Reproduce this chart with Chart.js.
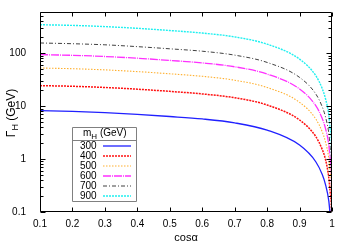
<!DOCTYPE html>
<html>
<head>
<meta charset="utf-8">
<script src="https://cdn.jsdelivr.net/npm/chart.js@4.4.1/dist/chart.umd.min.js"></script>
<style>
html, body { margin: 0; padding: 0; background: #fff; }
</style>
</head>
<body>
<canvas id="widthchart" width="350" height="245"></canvas>
<script>
// cos(alpha) sample points
const cosAlpha = [0.1, 0.2, 0.3, 0.4, 0.5, 0.6, 0.7, 0.8, 0.9, 0.95, 0.97, 0.98, 0.99, 0.995, 0.999, 1.0];

// Gamma_H (GeV) for each heavy Higgs mass
const width300 = [8.2, 7.95, 7.55, 7.0, 6.37, 5.72, 4.83, 3.52, 1.84, 0.89, 0.51, 0.33, 0.164, 0.082, 0.0164, 0.0001];
const width400 = [24.4, 23.7, 22.5, 20.9, 19.0, 17.0, 14.4, 10.5, 5.47, 2.66, 1.51, 0.98, 0.45, 0.22, 0.045, 0.0001];
const width500 = [52.5, 50.9, 48.4, 44.9, 40.8, 36.6, 30.9, 22.5, 11.8, 5.72, 3.26, 2.1, 1.05, 0.525, 0.105, 0.0001];
const width600 = [94, 91.2, 86.6, 80.4, 73.0, 65.5, 55.4, 40.3, 21.1, 10.2, 5.83, 3.77, 1.88, 0.94, 0.188, 0.0001];
const width700 = [156, 151, 144, 133, 121, 109, 91.9, 66.9, 34.9, 17.0, 9.67, 6.26, 3.12, 1.56, 0.312, 0.0001];
const width900 = [345, 335, 318, 295, 268, 240, 203, 148, 77.3, 37.6, 21.4, 13.8, 6.9, 3.45, 0.69, 0.0001];

const massLabels = ['300', '400', '500', '600', '700', '900'];

// axis ticks
const xTicks = [0.1, 0.2, 0.3, 0.4, 0.5, 0.6, 0.7, 0.8, 0.9, 1.0];
const yMajor = [0.1, 1, 10, 100];
const yMinor = [0.2, 0.3, 0.4, 0.5, 0.6, 0.7, 0.8, 0.9,
                2, 3, 4, 5, 6, 7, 8, 9,
                20, 30, 40, 50, 60, 70, 80, 90,
                200, 300, 400, 500];

const FONT = "'Liberation Sans', Arial, sans-serif";

function pts(ys) {
    return cosAlpha.map((c, i) => ({ x: c, y: ys[i] }));
}

function ds(label, ys, color, dash, w) {
    return {
        label: label,
        data: pts(ys),
        borderColor: color,
        backgroundColor: color,
        borderDash: dash,
        borderWidth: w,
        pointRadius: 0,
        cubicInterpolationMode: 'monotone',
        fill: false
    };
}

// frame, inward ticks, axis titles and the boxed legend
const decor = {
    id: 'decor',
    afterDraw(chart) {
        const { ctx, chartArea: a, scales: { x, y } } = chart;
        const L = Math.round(a.left) + 0.5, R = Math.round(a.right) - 0.5;
        const T = Math.round(a.top) + 0.5, B = Math.round(a.bottom) - 0.5;
        ctx.save();
        ctx.strokeStyle = '#000';
        ctx.lineWidth = 1;
        ctx.setLineDash([]);
        ctx.beginPath();
        ctx.rect(L, T, R - L, B - T);
        xTicks.forEach(v => {
            const px = Math.round(x.getPixelForValue(v)) + 0.5;
            ctx.moveTo(px, B); ctx.lineTo(px, B - 4);
            ctx.moveTo(px, T); ctx.lineTo(px, T + 4);
        });
        yMajor.forEach(v => {
            const py = Math.round(y.getPixelForValue(v)) + 0.5;
            ctx.moveTo(L, py); ctx.lineTo(L + 5, py);
            ctx.moveTo(R, py); ctx.lineTo(R - 5, py);
        });
        yMinor.forEach(v => {
            const py = Math.round(y.getPixelForValue(v)) + 0.5;
            ctx.moveTo(L, py); ctx.lineTo(L + 3, py);
            ctx.moveTo(R, py); ctx.lineTo(R - 3, py);
        });
        ctx.stroke();

        // x title
        ctx.fillStyle = '#000';
        ctx.font = '11px ' + FONT;
        ctx.textAlign = 'center';
        ctx.textBaseline = 'alphabetic';
        ctx.fillText('cosα', (a.left + a.right) / 2, 241);

        // y title with subscript
        ctx.save();
        ctx.translate(15, 113);
        ctx.rotate(-Math.PI / 2);
        ctx.textAlign = 'left';
        const g = 'Γ', rest = ' (GeV)';
        ctx.font = '9px ' + FONT;
        const wH = ctx.measureText('H').width;
        ctx.font = '12px ' + FONT;
        const wG = ctx.measureText(g).width, wR = ctx.measureText(rest).width;
        let sx = -(wG + wH + wR) / 2;
        ctx.fillText(g, sx, 0);
        ctx.font = '9px ' + FONT;
        ctx.fillText('H', sx + wG, 3);
        ctx.font = '12px ' + FONT;
        ctx.fillText(rest, sx + wG + wH, 0);
        ctx.restore();

        // legend box
        const bx = 72.5, by = 127.5, bw = 64, bh = 74;
        ctx.strokeStyle = '#808080';
        ctx.fillStyle = '#fff';
        ctx.beginPath();
        ctx.rect(bx, by, bw, bh);
        ctx.fill();
        ctx.moveTo(bx, by + 13);
        ctx.lineTo(bx + bw, by + 13);
        ctx.stroke();

        ctx.fillStyle = '#000';
        ctx.textAlign = 'left';
        ctx.textBaseline = 'middle';
        ctx.font = '10px ' + FONT;
        const t1 = 'm', t3 = ' (GeV)';
        const w1 = ctx.measureText(t1).width;
        ctx.font = '8px ' + FONT;
        const w2 = ctx.measureText('H').width;
        ctx.font = '10px ' + FONT;
        ctx.fillText(t1, 83, by + 6);
        ctx.font = '8px ' + FONT;
        ctx.fillText('H', 83 + w1, by + 9);
        ctx.font = '10px ' + FONT;
        ctx.fillText(t3, 83 + w1 + w2, by + 6);

        chart.data.datasets.forEach((d, i) => {
            const ly = by + 18.5 + i * 10;
            ctx.fillStyle = '#000';
            ctx.fillText(d.label, 80, ly);
            ctx.strokeStyle = d.borderColor;
            ctx.lineWidth = d.borderWidth;
            ctx.setLineDash(d.borderDash);
            ctx.beginPath();
            ctx.moveTo(103, ly);
            ctx.lineTo(131, ly);
            ctx.stroke();
        });
        ctx.restore();
    }
};

const ctx = document.getElementById('widthchart').getContext('2d');
const myChart = new Chart(ctx, {
    type: 'line',
    data: {
        datasets: [
            ds(massLabels[0], width300, '#2020ff', [], 1.3),
            ds(massLabels[1], width400, '#ff1010', [2, 1], 1.5),
            ds(massLabels[2], width500, '#ffb030', [1.5, 1.5], 1.1),
            ds(massLabels[3], width600, '#ff30ff', [8, 1, 1, 1], 1.3),
            ds(massLabels[4], width700, '#404040', [4, 2, 1, 2], 1.0),
            ds(massLabels[5], width900, '#20f0f0', [2, 1], 1.4)
        ]
    },
    options: {
        responsive: false,
        animation: false,
        devicePixelRatio: 1,
        layout: { padding: { top: 12, right: 18, left: 0, bottom: 0 } },
        plugins: {
            legend: { display: false },
            tooltip: { enabled: false }
        },
        scales: {
            x: {
                type: 'linear',
                min: 0.1,
                max: 1.0,
                grid: { display: false },
                border: { display: false },
                afterFit: s => { s.height = 33; },
                afterBuildTicks: s => { s.ticks = xTicks.map(v => ({ value: v })); },
                ticks: {
                    padding: -2,
                    color: '#000',
                    font: { family: FONT, size: 10 },
                    maxRotation: 0,
                    callback: v => String(Number(v.toFixed(1)))
                }
            },
            y: {
                type: 'logarithmic',
                min: 0.1,
                max: 600,
                grid: { display: false },
                border: { display: false },
                afterFit: s => { s.width = 40; },
                afterBuildTicks: s => { s.ticks = yMajor.map(v => ({ value: v })); },
                ticks: {
                    padding: 6,
                    color: '#000',
                    font: { family: FONT, size: 10 },
                    callback: v => String(v)
                }
            }
        }
    },
    plugins: [decor]
});
</script>
</body>
</html>
